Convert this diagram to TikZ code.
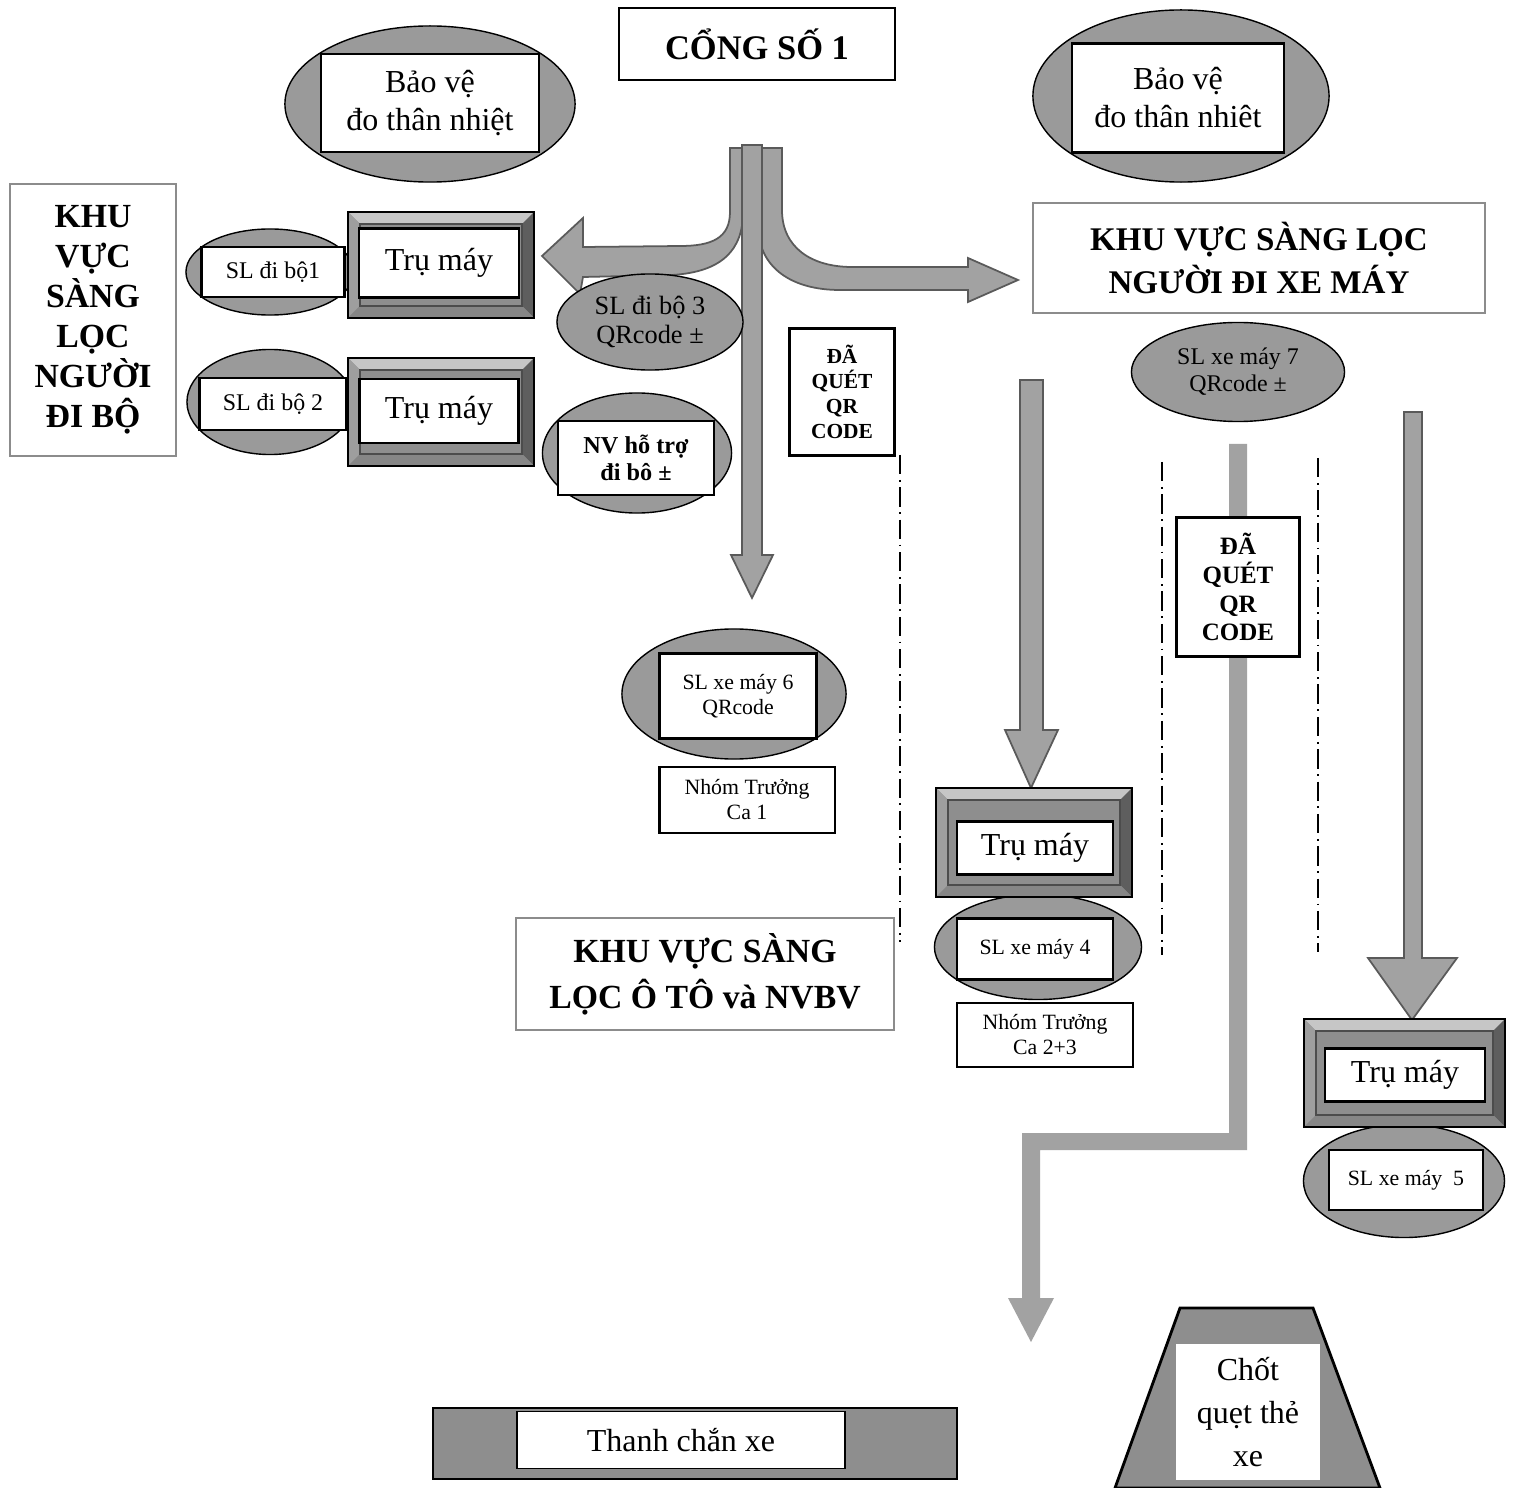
\documentclass[tikz,border=0pt]{standalone}
\usepackage{fontspec}
\setmainfont{Liberation Serif}
\usetikzlibrary{shapes.geometric}
\definecolor{ovalgray}{HTML}{9A9A9A}
\definecolor{facegray}{HTML}{8E8E8E}
\definecolor{bevlight}{HTML}{C6C6C6}
\definecolor{bevdark}{HTML}{5E5E5E}
\definecolor{arrowgray}{HTML}{A2A2A2}
\definecolor{arrowedge}{HTML}{5A5A5A}
\definecolor{paleedge}{HTML}{8C8C8C}
\tikzset{
  oval/.style={ellipse, draw=black, thin, fill=ovalgray, inner sep=0pt, outer sep=0pt, align=center},
  whitebox/.style={rectangle, draw=black, line width=0.7pt, fill=white, inner sep=1pt, align=center},
  areabox/.style={rectangle, draw=paleedge, line width=0.6pt, fill=white, align=center,
    font=\bfseries\fontsize{9.6}{12.5}\selectfont},
  qrbox/.style={rectangle, draw=black, line width=0.6pt, fill=white, align=center},
  bigtxt/.style={font=\fontsize{9.1}{10.8}\selectfont},
  midtxt/.style={font=\fontsize{7.5}{8.5}\selectfont},
  smalltxt/.style={font=\fontsize{6.2}{7.1}\selectfont},
  fatarrow/.style={fill=arrowgray, draw=arrowedge, line width=0.5pt},
  dashdot/.style={line width=0.6pt, dash pattern=on 5.5pt off 1.6pt on 0.5pt off 1.6pt},
}
\newcommand{\bevelframe}[4]{%
  \fill[facegray] (#1,#2) rectangle (#3,#4);
  \fill[bevlight] (#1,#2) -- (#3,#2) -- (#3-12,#2+12) -- (#1+12,#2+12) -- cycle;
  \fill[bevlight!80!black] (#1,#2) -- (#1+12,#2+12) -- (#1+12,#4-12) -- (#1,#4) -- cycle;
  \fill[bevdark] (#3,#2) -- (#3,#4) -- (#3-12,#4-12) -- (#3-12,#2+12) -- cycle;
  \fill[bevdark!75!white] (#1,#4) -- (#3,#4) -- (#3-12,#4-12) -- (#1+12,#4-12) -- cycle;
  \draw[black!70, line width=0.3pt] (#1+12,#2+12) rectangle (#3-12,#4-12);
  \draw[black, line width=0.8pt] (#1,#2) rectangle (#3,#4);
}

\begin{document}
\begin{tikzpicture}[x=0.01cm, y=-0.01cm]
\fill[white] (0,0) rectangle (1517,1488);
\useasboundingbox (0,0) rectangle (1517,1488);

\path[fatarrow] (730,148) -- (730,212) .. controls (730,238) and (712,246) .. (680,246) -- (583,247) -- (583,218)
  -- (542,256) -- (580,294) -- (583,277) -- (672,275) .. controls (722,272) and (743,250) .. (743,212) -- (743,148) -- cycle;
\path[fatarrow] (758,148) -- (782,148) -- (782,210) .. controls (782,248) and (812,267) .. (852,267) -- (968,267) -- (968,258)
  -- (1018,280) -- (968,302) -- (968,290) -- (840,290) .. controls (792,290) and (758,268) .. (758,225) -- cycle;
\path[fatarrow] (742,145) -- (762,145) -- (762,555) -- (773,555) -- (752,598) -- (731,555) -- (742,555) -- cycle;
\path[fatarrow] (1020,380) -- (1043,380) -- (1043,730) -- (1058,730) -- (1031,788) -- (1005,730) -- (1020,730) -- cycle;
\path[fatarrow] (1404,412) -- (1422,412) -- (1422,958) -- (1457,958) -- (1412,1020) -- (1368,958) -- (1404,958) -- cycle;
\path[fill=arrowgray] (1229,444) -- (1247,444) -- (1247,1150) -- (1040,1150) -- (1040,1298) -- (1054,1298) -- (1031,1342)
  -- (1008,1298) -- (1022,1298) -- (1022,1133) -- (1229,1133) -- cycle;

\draw[dashdot] (900,455) -- (900,942);
\draw[dashdot] (1162,462) -- (1162,955);
\draw[dashdot] (1318,458) -- (1318,952);

\node[rectangle, draw=black, line width=0.8pt, minimum width=2.76cm, minimum height=0.72cm,
  font=\bfseries\fontsize{9.8}{12}\selectfont] (gate) at (757,44) {CỔNG SỐ 1};

\node[oval, minimum width=2.90cm, minimum height=1.56cm] (guardL-oval) at (430,104) {};
\node[whitebox, bigtxt, minimum width=2.18cm, minimum height=0.98cm] (guardL) at (430,103) {Bảo vệ\\đo thân nhiệt};
\node[oval, minimum width=2.96cm, minimum height=1.72cm] (guardR-oval) at (1181,96) {};
\node[whitebox, bigtxt, minimum width=2.12cm, minimum height=1.09cm] (guardR) at (1178,98) {Bảo vệ\\đo thân nhiêt};

\node[areabox, minimum width=1.66cm, minimum height=2.72cm, font=\bfseries\fontsize{9.6}{11.4}\selectfont]
  (walkarea) at (93,320) {KHU\\VỰC\\SÀNG\\LỌC\\NGƯỜI\\ĐI BỘ};

\node[oval, minimum width=1.68cm, minimum height=0.86cm] (walk1-oval) at (270,272) {};
\node[whitebox, smalltxt, font=\fontsize{6.8}{7.8}\selectfont, minimum width=1.43cm, minimum height=0.50cm] (walk1) at (273,272) {SL đi bộ1};
\node[oval, minimum width=1.66cm, minimum height=1.05cm] (walk2-oval) at (270,402) {};
\node[whitebox, font=\fontsize{6.8}{7.8}\selectfont, minimum width=1.47cm, minimum height=0.52cm] (walk2) at (273,404) {SL đi bộ 2};

\bevelframe{348}{212}{534}{318}
\node[whitebox, bigtxt, minimum width=1.60cm, minimum height=0.69cm] (post1) at (439,263) {Trụ máy};
\bevelframe{348}{358}{534}{466}
\node[whitebox, bigtxt, minimum width=1.59cm, minimum height=0.64cm] (post2) at (439,411) {Trụ máy};

\node[oval, midtxt, minimum width=1.86cm, minimum height=0.96cm] (walk3) at (650,322) {SL đi bộ 3\\QRcode ±};
\node[oval, minimum width=1.89cm, minimum height=1.20cm] (helper-oval) at (637,453) {};
\node[whitebox, font=\bfseries\fontsize{6.9}{7.8}\selectfont, minimum width=1.56cm, minimum height=0.74cm] (helper) at (636,458) {NV hỗ trợ\\đi bô ±};

\node[qrbox, font=\bfseries\fontsize{6.1}{7.1}\selectfont, minimum width=1.05cm, minimum height=1.27cm] (scan1) at (842,392) {ĐÃ\\QUÉT\\QR\\CODE};

\node[oval, minimum width=2.24cm, minimum height=1.30cm] (moto6-oval) at (734,694) {};
\node[whitebox, smalltxt, minimum width=1.57cm, minimum height=0.85cm] (moto6) at (738,696) {SL xe máy 6\\QRcode};
\node[qrbox, smalltxt, minimum width=1.75cm, minimum height=0.66cm] (lead1) at (747,800) {Nhóm Trưởng\\Ca 1};

\node[areabox, font=\bfseries\fontsize{9.6}{13}\selectfont, minimum width=3.77cm, minimum height=1.12cm]
  (cararea) at (705,974) {KHU VỰC SÀNG\\LỌC Ô TÔ và NVBV};

\node[areabox, font=\bfseries\fontsize{9.4}{12.5}\selectfont, minimum width=4.52cm, minimum height=1.10cm]
  (motoarea) at (1259,258) {KHU VỰC SÀNG LỌC\\NGƯỜI ĐI XE MÁY};

\node[oval, font=\fontsize{6.8}{7.7}\selectfont, minimum width=2.13cm, minimum height=0.99cm] (moto7) at (1238,372) {SL xe máy 7\\QRcode ±};
\node[qrbox, font=\bfseries\fontsize{7.1}{8.2}\selectfont, minimum width=1.23cm, minimum height=1.39cm] (scan2) at (1238,587) {ĐÃ\\QUÉT\\QR\\CODE};

\node[oval, minimum width=2.07cm, minimum height=1.05cm] (moto4-oval) at (1038,947) {};
\bevelframe{936}{788}{1132}{897}
\node[whitebox, bigtxt, minimum width=1.56cm, minimum height=0.53cm] (post3) at (1035,848) {Trụ máy};
\node[whitebox, smalltxt, minimum width=1.56cm, minimum height=0.61cm] (moto4) at (1035,949) {SL xe máy 4};
\node[qrbox, smalltxt, minimum width=1.76cm, minimum height=0.64cm] (lead23) at (1045,1035) {Nhóm Trưởng\\Ca 2+3};

\node[oval, minimum width=2.01cm, minimum height=1.13cm] (moto5-oval) at (1404,1181) {};
\bevelframe{1304}{1019}{1505}{1127}
\node[whitebox, bigtxt, minimum width=1.60cm, minimum height=0.53cm] (post4) at (1405,1075) {Trụ máy};
\node[whitebox, smalltxt, minimum width=1.54cm, minimum height=0.60cm] (moto5) at (1406,1180) {SL xe máy~~5};

\filldraw[fill=facegray, draw=black, line width=0.8pt] (433,1408) rectangle (957,1479);
\node[whitebox, bigtxt, line width=0.4pt, minimum width=3.28cm, minimum height=0.57cm] (barrier) at (681,1440) {Thanh chắn xe};

\filldraw[fill=facegray, draw=black, line width=0.8pt] (1180,1308) -- (1313,1308) -- (1380,1488) -- (1115,1488) -- cycle;
\node[rectangle, fill=white, align=center, font=\fontsize{9.1}{12.3}\selectfont, minimum width=1.43cm, minimum height=1.35cm]
  (cardpost) at (1248,1412) {Chốt\\quẹt thẻ\\xe};
\end{tikzpicture}
\end{document}
